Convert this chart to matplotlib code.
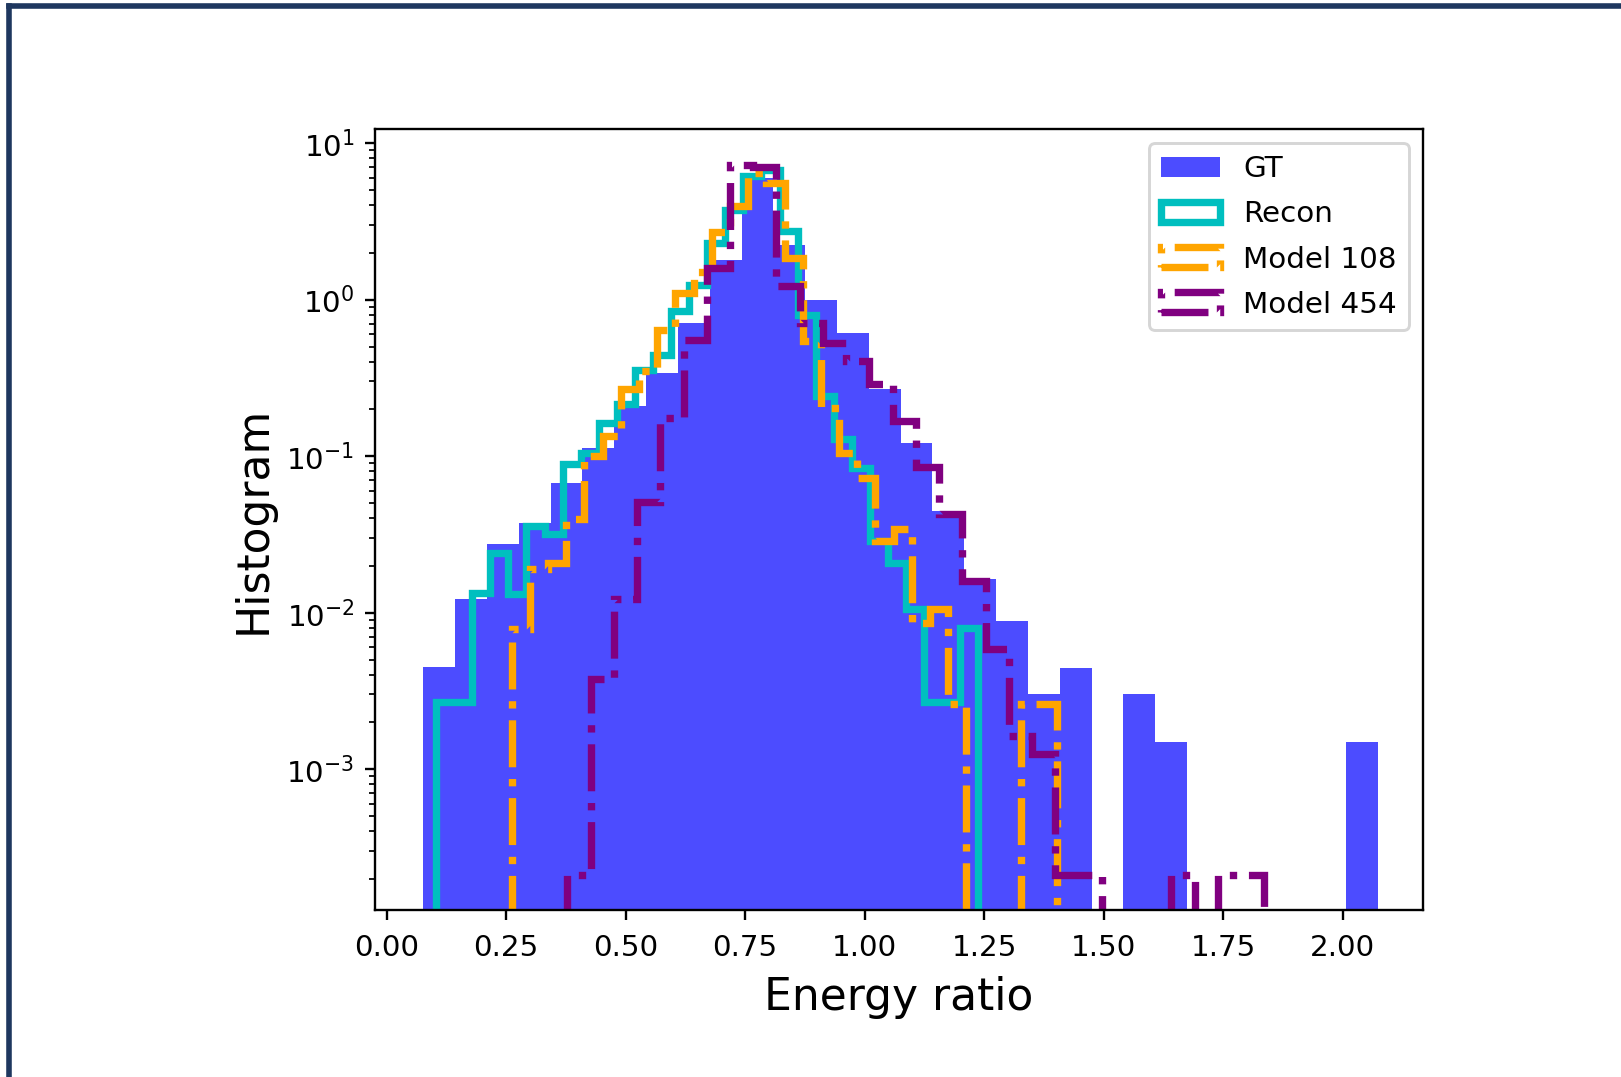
import matplotlib
matplotlib.use('Agg')
import matplotlib.pyplot as plt
from matplotlib.lines import Line2D
import numpy as np

# Each histogram has 30 bins spread over its own (min, max) range.
# Heights are densities.
gt_range = (0.0766, 2.074)
gt_density = [0.00447, 0.0122, 0.0276, 0.0376, 0.0676, 0.113, 0.209, 0.340,
              0.710, 1.80, 6.0, 2.22, 1.00, 0.613, 0.267, 0.122, 0.0446,
              0.0163, 0.00885, 0.0030, 0.00446, 0, 0.0030, 0.0015, 0, 0, 0,
              0, 0, 0.0015]

recon_range = (0.1031, 1.238)
recon_density = [0.00267, 0.00267, 0.0134, 0.0242, 0.0131, 0.0357, 0.0316,
                 0.0885, 0.105, 0.163, 0.214, 0.357, 0.446, 0.842, 1.246,
                 2.30, 3.75, 6.2, 6.7, 2.73, 0.80, 0.241, 0.128, 0.0843,
                 0.0287, 0.0209, 0.0105, 0.00267, 0.00267, 0.00803]

m108_range = (0.2615, 1.4033)
m108_density = [0.0079, 0.0189, 0.0209, 0.0394, 0.100, 0.134, 0.267, 0.349,
                0.644, 1.10, 1.50, 2.72, 3.94, 6.43, 5.56, 1.85, 0.542,
                0.204, 0.105, 0.0721, 0.0287, 0.0344, 0.0086, 0.0106, 0.0026,
                0, 0, 0, 0.0026, 0.0026]

m454_range = (0.3779, 1.8366)
m454_density = [0.00021, 0.00376, 0.0122, 0.051, 0.176, 0.556, 1.59, 7.28,
                7.09, 1.22, 0.710, 0.529, 0.404, 0.287, 0.167, 0.0855, 0.0425,
                0.0159, 0.0059, 0.00163, 0.00125, 0.00021, 0.00021, 0, 0, 0,
                0.00021, 0, 0.00021, 0.00021]


def bin_edges(rng, values):
    return np.linspace(rng[0], rng[1], len(values) + 1)


DPI = 211.4
W, H = 1621, 1077
fig = plt.figure(figsize=((W + 0.3) / DPI, (H + 0.3) / DPI), dpi=DPI)
ax = fig.add_axes([375 / W, 167 / H, 1048 / W, 781 / H])

e = bin_edges(gt_range, gt_density)
ax.hist(e[:-1], bins=e, weights=gt_density, color='blue', alpha=0.7, label='GT')

e = bin_edges(recon_range, recon_density)
ax.hist(e[:-1], bins=e, weights=recon_density, histtype='step', color='c',
        lw=2.5, label='Recon')

e = bin_edges(m108_range, m108_density)
ax.hist(e[:-1], bins=e, weights=m108_density, histtype='step', color='orange',
        lw=2.5, ls='-.', label='Model 108')

e = bin_edges(m454_range, m454_density)
ax.hist(e[:-1], bins=e, weights=m454_density, histtype='step', color='purple',
        lw=2.5, ls='-.', label='Model 454')

ax.set_yscale('log')
ax.set_xlim(-0.0245, 2.169)
ax.set_ylim(1.26e-4, 12.36)
ax.tick_params(axis='x', pad=4.5)
ax.set_xlabel('Energy ratio', fontsize=15, labelpad=5)
ax.set_ylabel('Histogram', fontsize=15)
ax.legend(loc='upper right', labelspacing=0.58)

# dark frame of the slide the chart sits on
frame_color = '#1e375f'
fx, fy = 9 / W, 1 - 6 / H
fig.add_artist(Line2D([fx, fx], [-0.01, fy], color=frame_color, lw=1.9,
                      solid_capstyle='projecting', transform=fig.transFigure))
fig.add_artist(Line2D([fx, 1.01], [fy, fy], color=frame_color, lw=1.9,
                      solid_capstyle='projecting', transform=fig.transFigure))

fig.savefig('out.png', dpi=DPI)
